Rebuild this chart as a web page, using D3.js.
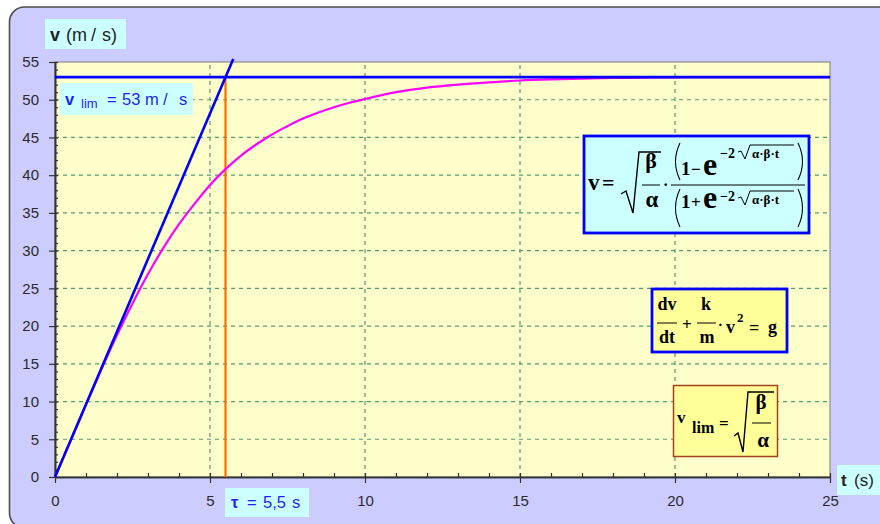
<!DOCTYPE html>
<html>
<head>
<meta charset="utf-8">
<script src="https://cdn.jsdelivr.net/npm/d3@7"></script>
<style>
  html, body { margin: 0; padding: 0; background: #ffffff; }
  svg { display: block; }
  .sans { font-family: "Liberation Sans", Arial, sans-serif; }
  .serif { font-family: "Liberation Serif", "Times New Roman", serif; font-weight: bold; }
</style>
</head>
<body>
<svg id="chart" width="880" height="524"></svg>
<script>
// Velocity of a falling body with quadratic drag (values taken along the measured curve)
const timeS = [0, 0.5, 1, 1.5, 2, 2.5, 3, 3.5, 4, 4.5, 5, 5.5, 6, 6.5, 7, 7.5, 8, 8.5, 9, 9.5,
               10, 11, 12, 13, 14, 15, 16, 17, 18, 19, 20, 21, 22, 23, 24, 25];
const speed = [0, 4.8, 9.6, 14.3, 18.8, 23.0, 26.9, 30.4, 33.5, 36.2, 38.7, 40.8, 42.6, 44.1, 45.4,
               46.5, 47.5, 48.3, 49.0, 49.6, 50.1, 51.0, 51.6, 52.0, 52.3, 52.55, 52.7, 52.8, 52.88,
               52.94, 52.97, 53, 53, 53, 53, 53];

// Limit speed, time constant and the initial tangent (slope g = vlim / tau)
const vLim = 53;
const tau = 5.5;
const tangentT = [0, 5.75];
const tangentV = [0, 55.4];

// Axis ticks
const xMajor = [0, 5, 10, 15, 20, 25];
const yMajor = [0, 5, 10, 15, 20, 25, 30, 35, 40, 45, 50, 55];
const xMinor = d3.range(0, 26, 1);
const yMinor = d3.range(0, 56, 1);

const svg = d3.select("#chart");

// Outer frame
svg.append("rect")
  .attr("x", 9.5).attr("y", 7).attr("width", 900).attr("height", 521)
  .attr("rx", 15).attr("ry", 15)
  .attr("fill", "#ccccff").attr("stroke", "#4d4d4d").attr("stroke-width", 1.6);

const x = d3.scaleLinear().domain([0, 25]).range([55, 830]);
const y = d3.scaleLinear().domain([0, 55]).range([477, 62]);

// Plot area
svg.append("rect")
  .attr("x", x(0)).attr("y", y(55))
  .attr("width", x(25) - x(0)).attr("height", y(0) - y(55))
  .attr("fill", "#ffffcc").attr("stroke", "#8c8c8c").attr("stroke-width", 1.2);

// Grid
const grid = svg.append("g").attr("stroke", "#4f9f73").attr("stroke-width", 1.2)
  .attr("stroke-dasharray", "4,4");
grid.selectAll("line.v").data(xMajor.filter(d => d > 0 && d < 25)).join("line")
  .attr("x1", d => x(d)).attr("x2", d => x(d)).attr("y1", y(0)).attr("y2", y(55));
grid.selectAll("line.h").data(yMajor.filter(d => d > 0 && d < 55)).join("line")
  .attr("x1", x(0)).attr("x2", x(25)).attr("y1", d => y(d)).attr("y2", d => y(d));

// Axes
function styleAxis(g) {
  g.attr("font-size", 15).attr("font-family", "Liberation Sans, Arial, sans-serif");
  g.selectAll("path.domain").attr("stroke", "#333").attr("stroke-width", 1.6);
  g.selectAll(".tick line").attr("stroke", "#333").attr("stroke-width", 1.2);
  g.selectAll(".tick text").attr("fill", "#2b2b2b");
}
svg.append("g").attr("transform", `translate(${x(0)},0)`)
  .call(d3.axisRight(y).tickValues(yMinor).tickSize(3).tickSizeOuter(0).tickFormat(""))
  .call(styleAxis);
svg.append("g").attr("transform", `translate(${x(0)},0)`)
  .call(d3.axisLeft(y).tickValues(yMajor).tickSize(6).tickSizeOuter(0).tickPadding(10))
  .call(styleAxis);
svg.append("g").attr("transform", `translate(0,${y(0)})`)
  .call(d3.axisTop(x).tickValues(xMinor).tickSize(4).tickSizeOuter(0).tickFormat(""))
  .call(styleAxis);
svg.append("g").attr("transform", `translate(0,${y(0)})`)
  .call(d3.axisBottom(x).tickValues(xMajor).tickSize(6).tickSizeOuter(0).tickPadding(12))
  .call(styleAxis);

// Orange marker at t = tau
svg.append("line")
  .attr("x1", x(tau)).attr("x2", x(tau)).attr("y1", y(0)).attr("y2", y(vLim))
  .attr("stroke", "#ff6a00").attr("stroke-width", 2.2);

// Velocity curve
const curve = timeS.map((t, i) => [t, speed[i]]);
svg.append("path").datum(curve)
  .attr("fill", "none").attr("stroke", "#ff00ff").attr("stroke-width", 2.2)
  .attr("d", d3.line().x(d => x(d[0])).y(d => y(d[1])).curve(d3.curveMonotoneX));

// Limit speed line
svg.append("line")
  .attr("x1", x(0)).attr("x2", x(25)).attr("y1", y(vLim)).attr("y2", y(vLim))
  .attr("stroke", "#0000ff").attr("stroke-width", 2.6);

// Initial tangent
svg.append("line")
  .attr("x1", x(tangentT[0])).attr("y1", y(tangentV[0]))
  .attr("x2", x(tangentT[1])).attr("y2", y(tangentV[1]))
  .attr("stroke", "#0000ff").attr("stroke-width", 2.6);

// Label boxes; each piece of text is placed on its own
function labelBox(bx, by, bw, bh) {
  svg.append("rect").attr("x", bx).attr("y", by).attr("width", bw).attr("height", bh)
    .attr("fill", "#ccffff");
}
function word(s, px, py, size, color, bold) {
  svg.append("text").attr("class", "sans").attr("x", px).attr("y", py)
    .attr("font-size", size).attr("fill", color)
    .attr("font-weight", bold ? "bold" : "normal").text(s);
}

labelBox(45, 19, 81, 30);
word("v", 50, 41, 18, "#222", true);
word("(m", 66, 41, 18, "#222");
word("/", 91, 41, 18, "#222");
word("s)", 102, 41, 18, "#222");

labelBox(60, 83, 133, 32);
word("v", 65, 105, 16.5, "#1f1fff", true);
word("lim", 81, 108, 13, "#1f1fff");
word("=", 107, 105, 16.5, "#1f1fff");
word("53", 122, 105, 16.5, "#1f1fff");
word("m", 145, 105, 16.5, "#1f1fff");
word("/", 163, 105, 16.5, "#1f1fff");
word("s", 179, 105, 16.5, "#1f1fff");

labelBox(225, 488, 84, 29);
word("τ", 231, 508, 16.5, "#1f1fff", true);
word("=", 247, 508, 16.5, "#1f1fff");
word("5,5", 263, 508, 16.5, "#1f1fff");
word("s", 292, 508, 16.5, "#1f1fff");

labelBox(837, 465, 43, 30);
word("t", 841, 486, 17, "#222", true);
word("(s)", 854, 486, 17, "#222");

// Formula helpers
function txt(g, s, px, py, size, anchor) {
  return g.append("text").attr("class", "serif").attr("x", px).attr("y", py)
    .attr("font-size", size).attr("text-anchor", anchor || "start").attr("fill", "#000").text(s);
}
function stroke(g, d, w) {
  g.append("path").attr("d", d).attr("fill", "none").attr("stroke", "#000")
    .attr("stroke-width", w || 1.2).attr("stroke-linejoin", "miter");
}
function paren(g, px, y1, y2, dir) {
  const mid = (y1 + y2) / 2;
  stroke(g, `M${px},${y1} Q${px - 9 * dir},${mid} ${px},${y2}`, 1.1);
}
function smallRoot(g, x0, yb, x1) {
  stroke(g, `M${x0},${yb - 6} L${x0 + 3},${yb - 7} L${x0 + 7},${yb + 1} L${x0 + 12},${yb - 13} L${x1},${yb - 13}`, 1.0);
}

// Box 1: solution v(t)
const f1 = svg.append("g");
f1.append("rect").attr("x", 584).attr("y", 136).attr("width", 225).attr("height", 97)
  .attr("fill", "#ccffff").attr("stroke", "#0000ff").attr("stroke-width", 2.8);
txt(f1, "v", 588, 190, 23);
txt(f1, "=", 602, 190, 22);
stroke(f1, "M621,194 L626,191 L633,213 L639,152 L661,152", 1.4);
txt(f1, "β", 651, 168, 22, "middle");
stroke(f1, "M642,185 L660,185", 1);
txt(f1, "α", 652, 207, 23, "middle");
txt(f1, "·", 663, 190, 16);
stroke(f1, "M671,185 L805,185", 1);
// numerator
paren(f1, 680, 143, 180, 1);
txt(f1, "1", 681, 175, 19);
txt(f1, "−", 691, 175, 17);
txt(f1, "e", 703, 175, 32);
txt(f1, "−2", 720, 158, 14);
smallRoot(f1, 738, 158, 794);
txt(f1, "α·β·t", 752, 158, 13);
paren(f1, 798, 143, 180, -1);
// denominator
paren(f1, 680, 189, 227, 1);
txt(f1, "1", 681, 208, 19);
txt(f1, "+", 691, 208, 17);
txt(f1, "e", 703, 208, 32);
txt(f1, "−2", 720, 201, 14);
smallRoot(f1, 738, 204, 794);
txt(f1, "α·β·t", 752, 204, 13);
paren(f1, 798, 189, 227, -1);

// Box 2: equation of motion
const f2 = svg.append("g");
f2.append("rect").attr("x", 652).attr("y", 289).attr("width", 135).attr("height", 63)
  .attr("fill", "#ffff99").attr("stroke", "#0000ff").attr("stroke-width", 2.8);
txt(f2, "dv", 667, 310, 18, "middle");
stroke(f2, "M657,323 L677,323", 1);
txt(f2, "dt", 667, 343, 18, "middle");
txt(f2, "+", 682, 330, 17);
txt(f2, "k", 706, 310, 18, "middle");
stroke(f2, "M697,323 L716,323", 1);
txt(f2, "m", 707, 343, 18, "middle");
txt(f2, "·", 718, 330, 14);
txt(f2, "v", 726, 333, 18);
txt(f2, "2", 737, 322, 13);
txt(f2, "=", 749, 334, 18);
txt(f2, "g", 768, 333, 18);

// Box 3: limit speed
const f3 = svg.append("g");
f3.append("rect").attr("x", 673.5).attr("y", 385.5).attr("width", 104).attr("height", 71)
  .attr("fill", "#ffff99").attr("stroke", "#a0421e").attr("stroke-width", 1.5);
txt(f3, "v", 677, 423, 17);
txt(f3, "lim", 692, 433, 16);
txt(f3, "=", 719, 429, 17);
stroke(f3, "M734,436 L738,433 L743,452 L748,392 L774,392", 1.4);
txt(f3, "β", 761, 409, 21, "middle");
stroke(f3, "M752,423 L771,423", 1);
txt(f3, "α", 763, 447, 21, "middle");
</script>
</body>
</html>
